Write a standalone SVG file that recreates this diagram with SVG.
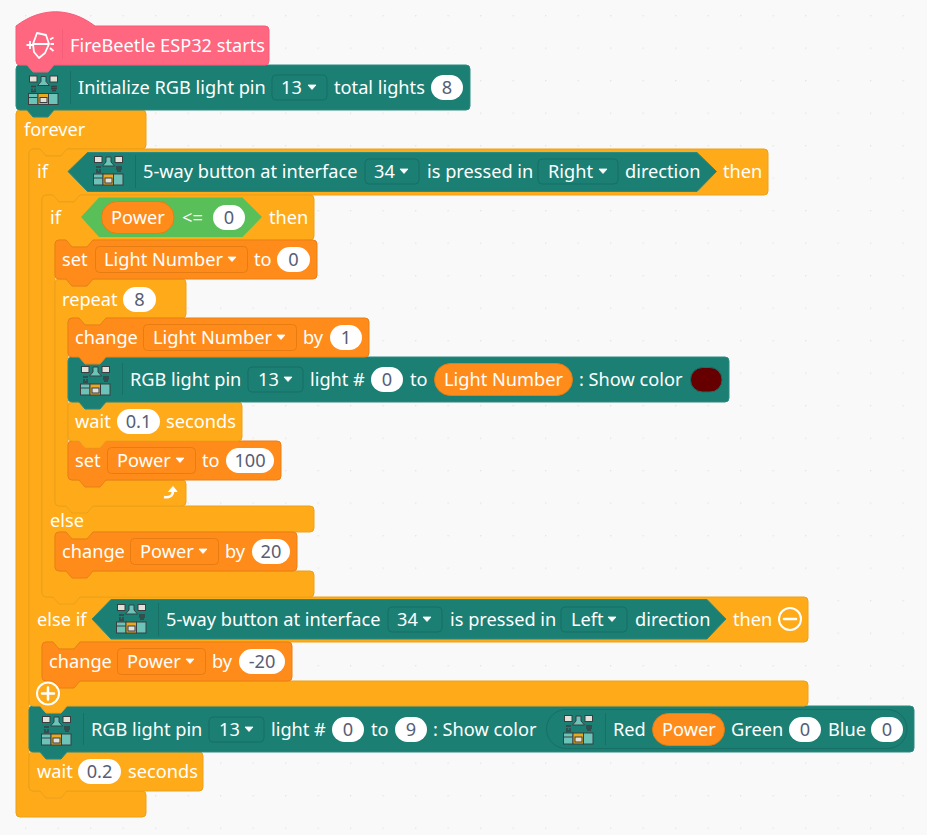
<svg xmlns="http://www.w3.org/2000/svg" xmlns:xlink="http://www.w3.org/1999/xlink" width="927" height="835" viewBox="0 0 927 835">
<style>
text{font-family:"Noto Sans","Liberation Sans",sans-serif;font-size:18.2px;fill:#fff;transform:translateY(1px)}
.v{fill:#575e75;text-anchor:middle}
.ctl{fill:#ffab19;stroke:#eba01a;stroke-width:1}
.var{fill:#ff8c1a;stroke:#e97f14;stroke-width:1}
.tl{fill:#1b7f74;stroke:#2a8b80;stroke-width:1}
.pnk{fill:#ff6680;stroke:#f55d78;stroke-width:1}
.grn{fill:#59c059}
.pill{fill:#fff}
.opill{fill:#ff8c1a;stroke:#e77c12}
.ddv{fill:#ff8c1a;stroke:#e77c12}
.ddt{fill:#1b7f74;stroke:#176f65}
.div{stroke:#176f65;stroke-width:1;fill:none}
</style>
<defs>
<pattern id="grid" width="32.5" height="32.5" patternUnits="userSpaceOnUse" x="25" y="15"><circle cx="0.5" cy="0.5" r="1" fill="#e6e6e6"/></pattern>
<path id="caret" d="M0 0h8l-4 4.5z" fill="#fff" stroke="#fff" stroke-linejoin="round" stroke-width="0.8"/>
<g id="icon">
<rect x="1.5" y="0.5" width="7.5" height="6" fill="#e3e0d8" stroke="#3b3f42"/>
<rect x="22" y="0.5" width="7.5" height="6" fill="#e3e0d8" stroke="#3b3f42"/>
<path d="M13 1h5v5l3.500 4h-12l3.500-4z" fill="#6cc4b8" stroke="#3b3f42"/>
<path d="M3 11h5M4 13v2M7 13v2M3 16h5M23 11h6M23 13h6M24 15h4" stroke="#3b3f42" stroke-width="1.400" fill="none"/>
<rect x="0.500" y="18" width="9.500" height="11" fill="#6cc4b8" stroke="#3b3f42"/>
<rect x="10" y="18" width="10.500" height="11" fill="#e8a91e" stroke="#3b3f42"/>
<rect x="12" y="22" width="7" height="5" fill="#e3e0d8" stroke="#3b3f42"/>
<rect x="20.500" y="18" width="9.500" height="11" fill="#6cc4b8" stroke="#3b3f42"/>
<path d="M1 22h8.500" stroke="#3b3f42" fill="none"/>
</g>
</defs>
<rect width="927" height="835" fill="#f9f9f9"/>
<rect width="927" height="835" fill="url(#grid)"/>

<g id="forever">
<path class="ctl" d="M16 114a4 4 0 0 1 4-4h7l6 7h15l6-7H142a4 4 0 0 1 4 4V145a4 4 0 0 1-4 4H67l-6 7h-15l-6-7H33a4 4 0 0 0-4 4V787a4 4 0 0 0 4 4H142a4 4 0 0 1 4 4V813a4 4 0 0 1-4 4H20a4 4 0 0 1-4-4Z"/>
<text x="24" y="135">forever</text>
</g>

<g id="wait-02">
<path class="ctl" d="M29 756a4 4 0 0 1 4-4h7l6 7h15l6-7H199a4 4 0 0 1 4 4V787a4 4 0 0 1-4 4H67l-6 7h-15l-6-7H33a4 4 0 0 1-4-4Z"/>
<text x="37" y="777">wait</text>
<rect class="pill" x="78" y="759" width="43" height="25" rx="12.500"/><text class="v" x="99.500" y="777">0.2</text>
<text x="128" y="777">seconds</text>
</g>

<g id="rgb-show-main">
<path class="tl" d="M29 710a4 4 0 0 1 4-4h7l6 7h15l6-7H910a4 4 0 0 1 4 4V748a4 4 0 0 1-4 4H67l-6 7h-15l-6-7H33a4 4 0 0 1-4-4Z"/>
<use href="#icon" x="41" y="716"/>
<path class="div" d="M83.500 713V745"/>
<text x="91" y="735">RGB light pin</text>
<rect class="ddt" x="209" y="717" width="55" height="25" rx="4"/><text x="219" y="735">13</text><use href="#caret" x="245" y="727"/>
<text x="271" y="735">light #</text>
<rect class="pill" x="332" y="717" width="32" height="25" rx="12.500"/><text class="v" x="348" y="735">0</text>
<text x="371" y="735">to</text>
<rect class="pill" x="395" y="717" width="32" height="25" rx="12.500"/><text class="v" x="411" y="735">9</text>
<text x="433" y="735">: Show color</text>
<rect x="546.500" y="709.500" width="360.500" height="39" rx="19.500" fill="#1b7f74" stroke="#176f65"/>
<use href="#icon" x="563" y="715"/>
<path class="div" d="M605.500 713V745"/>
<text x="613" y="735">Red</text>
<rect class="opill" x="652.500" y="713.500" width="72" height="32" rx="16"/><text x="662" y="735">Power</text>
<text x="731" y="735">Green</text>
<rect class="pill" x="789" y="717" width="32" height="25" rx="12.500"/><text class="v" x="805" y="735">0</text>
<text x="828" y="735">Blue</text>
<rect class="pill" x="871" y="717" width="32" height="25" rx="12.500"/><text class="v" x="887" y="735">0</text>
</g>

<g id="if-right">
<path class="ctl" d="M29 153a4 4 0 0 1 4-4h7l6 7h15l6-7H764a4 4 0 0 1 4 4V191a4 4 0 0 1-4 4H80l-6 7h-15l-6-7H46a4 4 0 0 0-4 4V593a4 4 0 0 0 4 4H804a4 4 0 0 1 4 4V638a4 4 0 0 1-4 4H80l-6 7h-15l-6-7H46a4 4 0 0 0-4 4V677a4 4 0 0 0 4 4H804a4 4 0 0 1 4 4V702a4 4 0 0 1-4 4H67l-6 7h-15l-6-7H33a4 4 0 0 1-4-4Z"/>
<text x="37" y="177">if</text>
<path class="tl" d="M68 171.500L87.500 152.500H697L716.500 171.500L697 191.500H87.500Z"/>
<use href="#icon" x="93" y="156"/>
<path class="div" d="M135.500 155V188"/>
<text x="143" y="177">5-way button at interface</text>
<rect class="ddt" x="365" y="159" width="54" height="25" rx="4"/><text x="374" y="177">34</text><use href="#caret" x="400" y="169"/>
<text x="427" y="177">is pressed in</text>
<rect class="ddt" x="538" y="159" width="80" height="25" rx="4"/><text x="548" y="177">Right</text><use href="#caret" x="599" y="169"/>
<text x="625" y="177">direction</text>
<text x="723" y="177">then</text>

<text x="37" y="625">else if</text>
<path class="tl" d="M92 619L111 599.500H707L726 619L707 639H111Z"/>
<use href="#icon" x="116" y="604"/>
<path class="div" d="M158.500 603V636"/>
<text x="166" y="625">5-way button at interface</text>
<rect class="ddt" x="388" y="607" width="54" height="25" rx="4"/><text x="397" y="625">34</text><use href="#caret" x="423" y="617"/>
<text x="450" y="625">is pressed in</text>
<rect class="ddt" x="561" y="607" width="66" height="25" rx="4"/><text x="571" y="625">Left</text><use href="#caret" x="608" y="617"/>
<text x="635" y="625">direction</text>
<text x="733" y="625">then</text>
<circle cx="790" cy="619" r="11" fill="none" stroke="#fff" stroke-width="2"/><path d="M784 619h12" stroke="#fff" stroke-width="2.500" stroke-linecap="round"/>

<g id="change-minus20">
<path class="var" d="M42 646a4 4 0 0 1 4-4h7l6 7h15l6-7H288a4 4 0 0 1 4 4V677a4 4 0 0 1-4 4H80l-6 7h-15l-6-7H46a4 4 0 0 1-4-4Z"/>
<text x="49" y="667">change</text>
<rect class="ddv" x="117.500" y="648.500" width="88" height="26" rx="4"/><text x="127" y="667">Power</text><use href="#caret" x="186" y="659"/>
<text x="212" y="667">by</text>
<rect class="pill" x="239" y="649" width="46" height="25" rx="12.500"/><text class="v" x="262" y="667">-20</text>
</g>
<g id="add-branch">
<circle cx="48" cy="693.500" r="11" fill="#ffab19" stroke="#fff" stroke-width="2"/><path d="M42 693.500h12M48 687.500v12" stroke="#fff" stroke-width="2.500" stroke-linecap="round"/>
</g>

<g id="if-power">
<path class="ctl" d="M42 199a4 4 0 0 1 4-4h7l6 7h15l6-7H310a4 4 0 0 1 4 4V236a4 4 0 0 1-4 4H93l-6 7h-15l-6-7H59a4 4 0 0 0-4 4V502a4 4 0 0 0 4 4H310a4 4 0 0 1 4 4V528a4 4 0 0 1-4 4H93l-6 7h-15l-6-7H59a4 4 0 0 0-4 4V567a4 4 0 0 0 4 4H310a4 4 0 0 1 4 4V593a4 4 0 0 1-4 4H80l-6 7h-15l-6-7H46a4 4 0 0 1-4-4Z"/>
<text x="50" y="223">if</text>
<path class="grn" d="M81 217L99 197.500H242.500L262 217L242.500 237H99Z"/>
<rect class="opill" x="101.500" y="201.500" width="72.500" height="32" rx="16"/><text x="111" y="223">Power</text>
<text x="182" y="223">&lt;=</text>
<rect class="pill" x="213" y="205" width="32" height="25" rx="12.500"/><text class="v" x="229" y="223">0</text>
<text x="269" y="223">then</text>
<text x="50" y="526">else</text>

<g id="change-power-20">
<path class="var" d="M55 536a4 4 0 0 1 4-4h7l6 7h15l6-7H293a4 4 0 0 1 4 4V567a4 4 0 0 1-4 4H93l-6 7h-15l-6-7H59a4 4 0 0 1-4-4Z"/>
<text x="62" y="557">change</text>
<rect class="ddv" x="130.500" y="538.500" width="88" height="26" rx="4"/><text x="140" y="557">Power</text><use href="#caret" x="199" y="549"/>
<text x="225" y="557">by</text>
<rect class="pill" x="252" y="539" width="38" height="25" rx="12.500"/><text class="v" x="271" y="557">20</text>
</g>

<g id="repeat-8">
<path class="ctl" d="M55 283a4 4 0 0 1 4-4h7l6 7h15l6-7H182a4 4 0 0 1 4 4V314a4 4 0 0 1-4 4H106l-6 7h-15l-6-7H72a4 4 0 0 0-4 4V476a4 4 0 0 0 4 4H182a4 4 0 0 1 4 4V502a4 4 0 0 1-4 4H93l-6 7h-15l-6-7H59a4 4 0 0 1-4-4Z"/>
<text x="62" y="305">repeat</text>
<rect class="pill" x="123" y="287" width="33" height="25" rx="12.500"/><text class="v" x="139.500" y="305">8</text>
<path d="M164 497c5 1 9-1 9-6" fill="none" stroke="#fff" stroke-width="2.500"/><path d="M168.500 491.500L173 486.500L177 491.500Z" fill="#fff" stroke="#fff"/>

<g id="set-power-100">
<path class="var" d="M68 445a4 4 0 0 1 4-4h7l6 7h15l6-7H277a4 4 0 0 1 4 4V476a4 4 0 0 1-4 4H106l-6 7h-15l-6-7H72a4 4 0 0 1-4-4Z"/>
<text x="75" y="466">set</text>
<rect class="ddv" x="107.500" y="447.500" width="88" height="26" rx="4"/><text x="117" y="466">Power</text><use href="#caret" x="176" y="458"/>
<text x="202" y="466">to</text>
<rect class="pill" x="226" y="448" width="48" height="25" rx="12.500"/><text class="v" x="250" y="466">100</text>
</g>
<g id="wait-01">
<path class="ctl" d="M68 406a4 4 0 0 1 4-4h7l6 7h15l6-7H238a4 4 0 0 1 4 4V437a4 4 0 0 1-4 4H106l-6 7h-15l-6-7H72a4 4 0 0 1-4-4Z"/>
<text x="75" y="427">wait</text>
<rect class="pill" x="117" y="409" width="43" height="25" rx="12.500"/><text class="v" x="138.500" y="427">0.1</text>
<text x="166" y="427">seconds</text>
</g>
<g id="rgb-show-loop">
<path class="tl" d="M68 361a4 4 0 0 1 4-4h7l6 7h15l6-7H725a4 4 0 0 1 4 4V398a4 4 0 0 1-4 4H106l-6 7h-15l-6-7H72a4 4 0 0 1-4-4Z"/>
<use href="#icon" x="80" y="366"/>
<path class="div" d="M122.500 363V395"/>
<text x="130" y="385">RGB light pin</text>
<rect class="ddt" x="248" y="367" width="55" height="25" rx="4"/><text x="258" y="385">13</text><use href="#caret" x="284" y="377"/>
<text x="310" y="385">light #</text>
<rect class="pill" x="371" y="367" width="32" height="25" rx="12.500"/><text class="v" x="387" y="385">0</text>
<text x="410" y="385">to</text>
<rect class="opill" x="434.500" y="363.500" width="138" height="32" rx="16"/><text x="444" y="385">Light Number</text>
<text x="579" y="385">: Show color</text>
<rect x="690.500" y="367.500" width="31.500" height="24.500" rx="12" fill="#660000" stroke="#176f65"/>
</g>
<g id="change-light">
<path class="var" d="M68 322a4 4 0 0 1 4-4h7l6 7h15l6-7H365a4 4 0 0 1 4 4V353a4 4 0 0 1-4 4H106l-6 7h-15l-6-7H72a4 4 0 0 1-4-4Z"/>
<text x="75" y="343">change</text>
<rect class="ddv" x="143.500" y="324.500" width="153" height="26" rx="4"/><text x="153" y="343">Light Number</text><use href="#caret" x="277" y="335"/>
<text x="303" y="343">by</text>
<rect class="pill" x="330" y="325" width="32" height="25" rx="12.500"/><text class="v" x="346" y="343">1</text>
</g>
</g>

<g id="set-light">
<path class="var" d="M55 244a4 4 0 0 1 4-4h7l6 7h15l6-7H313a4 4 0 0 1 4 4V275a4 4 0 0 1-4 4H93l-6 7h-15l-6-7H59a4 4 0 0 1-4-4Z"/>
<text x="62" y="265">set</text>
<rect class="ddv" x="95.500" y="246.500" width="152" height="26" rx="4"/><text x="104" y="265">Light Number</text><use href="#caret" x="228" y="257"/>
<text x="254" y="265">to</text>
<rect class="pill" x="277" y="247" width="33" height="25" rx="12.500"/><text class="v" x="293.500" y="265">0</text>
</g>
</g>
</g>

<g id="init-rgb">
<path class="tl" d="M16 69a4 4 0 0 1 4-4h7l6 7h15l6-7H466a4 4 0 0 1 4 4V106a4 4 0 0 1-4 4H54l-6 7h-15l-6-7H20a4 4 0 0 1-4-4Z"/>
<use href="#icon" x="28" y="75.500"/>
<path class="div" d="M70.500 71V104"/>
<text x="78" y="93">Initialize RGB light pin</text>
<rect class="ddt" x="272" y="75" width="55" height="25" rx="4"/><text x="281" y="93">13</text><use href="#caret" x="308" y="85"/>
<text x="334" y="93">total lights</text>
<rect class="pill" x="431" y="75" width="32" height="25" rx="12.500"/><text class="v" x="447" y="93">8</text>
</g>

<g id="hat-start">
<path class="pnk" d="M16 26c25-19 54-19 79 0H265a4 4 0 0 1 4 4V61a4 4 0 0 1-4 4H54l-6 7h-15l-6-7H20a4 4 0 0 1-4-4Z"/>
<path d="M37 33L46 35L49 44L45 53L39 58L34 52L33 44ZM33 44L49 44M26.500 45H33M30 41V49M50 39.500L53.500 37.500M50.500 44H54M50 48L53.500 51" fill="none" stroke="#fff" stroke-width="1.800" stroke-linejoin="round"/>
<path d="M62.500 29V59" stroke="#f55d78" fill="none"/>
<text x="70" y="51">FireBeetle ESP32 starts</text>
</g>
</svg>
